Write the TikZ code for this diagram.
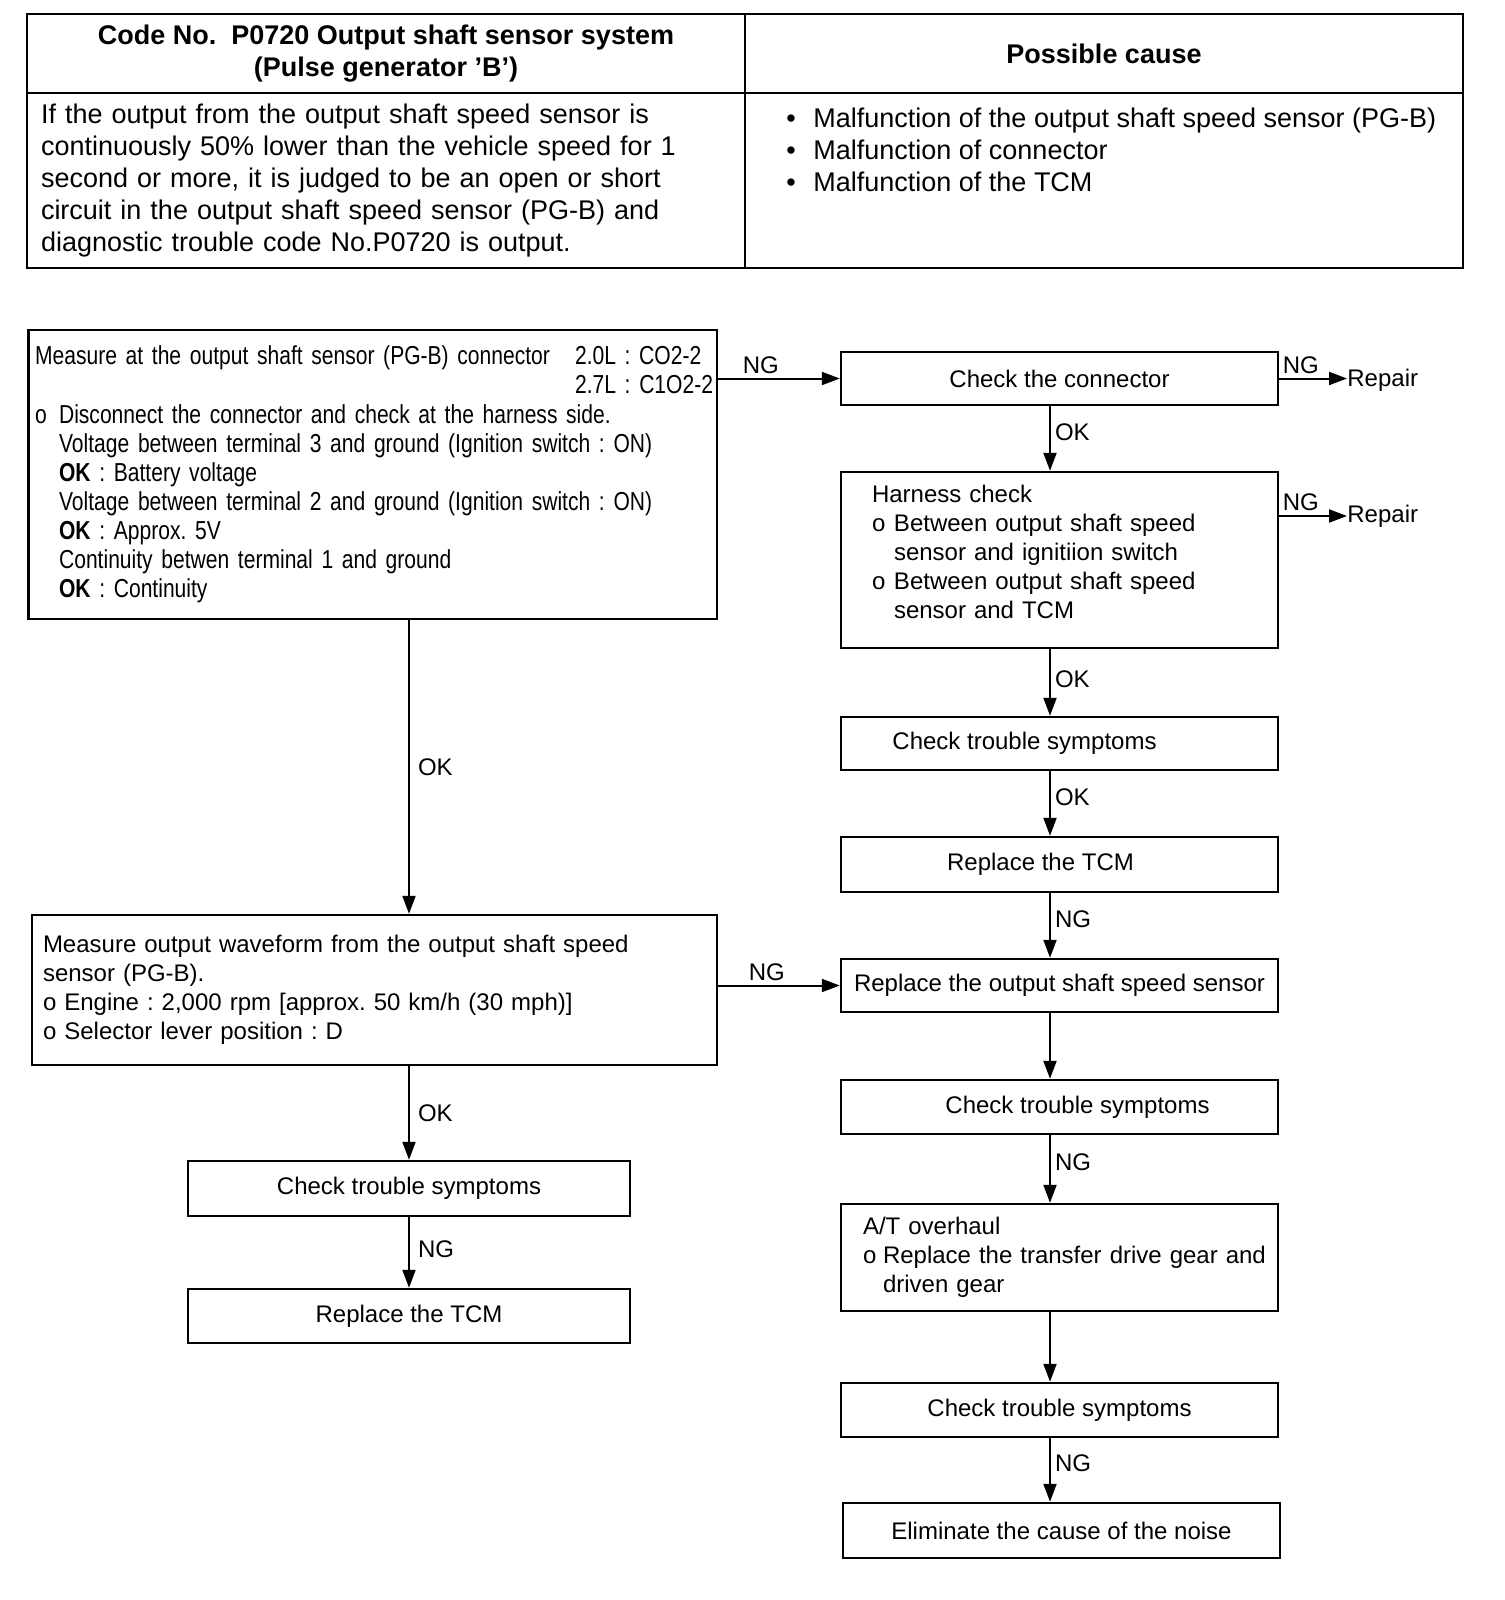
\documentclass[tikz,border=0pt]{standalone}
\usepackage{fontspec}
\setmainfont{Liberation Sans}
\newfontfamily\narrowsans[FakeStretch=0.81, WordSpace=0.8]{Liberation Sans}
\usetikzlibrary{arrows.meta}
\frenchspacing

\tikzset{
  cell/.style={draw, line width=1.2pt, inner sep=0pt},
  stepbox/.style={draw, line width=1.2pt, inner sep=0pt, minimum width=218.5pt,
    font=\fontsize{12}{14.5}\selectfont},
  arr/.style={line width=1pt, -{Triangle[length=9pt,width=6.5pt]}},
  lbl/.style={font=\fontsize{12}{14}\selectfont, inner sep=2pt},
}

\begin{document}
\begin{tikzpicture}[x=0.5pt, y=-0.5pt]
    \useasboundingbox (0,0) rectangle (1504,1600);

    % Table
    \node[cell, minimum width=358.75pt, minimum height=39.5pt, align=center,
      font=\bfseries\fontsize{13.5}{16}\selectfont] (codeHead) at (386,53.5)
      {Code No.\ \ P0720 Output shaft sensor system\\(Pulse generator 'B')};
    \node[cell, minimum width=359pt, minimum height=39.5pt,
      font=\bfseries\fontsize{13.5}{16}\selectfont] (causeHead) at (1104,53.5) {Possible cause};
    \node[cell, minimum width=358.75pt, minimum height=87.5pt, text width=345pt,
      inner xsep=6.75pt, align=left, font=\fontsize{13.5}{16}\selectfont] (codeBody) at (386,180.5)
      {If the output from the output shaft speed sensor is\\
       continuously 50\% lower than the vehicle speed for 1\\
       second or more, it is judged to be an open or short\\
       circuit in the output shaft speed sensor (PG-B) and\\
       diagnostic trouble code No.P0720 is output.};
    \node[cell, minimum width=359pt, minimum height=87.5pt] (causeBody) at (1104,180.5) {};
    \node[anchor=base west, align=left, inner sep=0pt,
      font=\fontsize{13.5}{16}\selectfont] (causeList) at (786,191.5)
      {\makebox[13.5pt][l]{•}Malfunction of the output shaft speed sensor (PG-B)\\
       \makebox[13.5pt][l]{•}Malfunction of connector\\
       \makebox[13.5pt][l]{•}Malfunction of the TCM};

    % Left column
    \node[stepbox, minimum width=344.2pt, minimum height=144.5pt, text width=337.7pt,
      inner xsep=3.25pt, align=left, font=\narrowsans\fontsize{13}{14.55}\selectfont]
      (measConn) at (372.8,474.5)
      {\makebox[270pt][l]{Measure at the output shaft sensor (PG-B) connector}\mbox{2.0L : CO2-2}\\
       \hspace*{270pt}\mbox{2.7L : C1O2-2}\\
       \makebox[12pt][l]{o}Disconnect the connector and check at the harness side.\\
       \hspace*{12pt}Voltage between terminal 3 and ground (Ignition switch : ON)\\
       \hspace*{12pt}\textbf{OK} : Battery voltage\\
       \hspace*{12pt}Voltage between terminal 2 and ground (Ignition switch : ON)\\
       \hspace*{12pt}\textbf{OK} : Approx. 5V\\
       \hspace*{12pt}Continuity betwen terminal 1 and ground\\
       \hspace*{12pt}\textbf{OK} : Continuity};
    \node[stepbox, minimum width=342.5pt, minimum height=75pt, text width=331.5pt,
      inner xsep=5.5pt, align=left] (measWave) at (374.5,990)
      {Measure output waveform from the output shaft speed\\
       sensor (PG-B).\\
       o Engine : 2,000 rpm [approx. 50 km/h (30 mph)]\\
       o Selector lever position : D};
    \node[stepbox, minimum width=221pt, minimum height=27.5pt] (checkL) at (409,1188.5) {Check trouble symptoms};
    \node[stepbox, minimum width=221pt, minimum height=27pt] (tcmL) at (409,1316) {Replace the TCM};

    % Right column
    \node[stepbox, minimum height=26.5pt] (checkConn) at (1059.5,378.5) {Check the connector};
    \node[stepbox, minimum height=88pt, text width=187.5pt, inner xsep=15.5pt, align=left]
      (harnCheck) at (1059.5,560)
      {Harness check\\
       \makebox[11pt][l]{o}Between output shaft speed\\
       \hspace*{11pt}sensor and ignitiion switch\\
       \makebox[11pt][l]{o}Between output shaft speed\\
       \hspace*{11pt}sensor and TCM\\[-6.5pt]\mbox{}};
    \node[stepbox, minimum height=26.5pt] (checkR1) at (1059.5,743.5) {\hspace*{-35pt}Check trouble symptoms};
    \node[stepbox, minimum height=27.5pt] (tcmR) at (1059.5,864.5) {\hspace*{-19pt}Replace the TCM};
    \node[stepbox, minimum height=26.5pt] (pgbSensor) at (1059.5,985.5) {Replace the output shaft speed sensor};
    \node[stepbox, minimum height=27pt] (checkR2) at (1059.5,1107) {\hspace*{18pt}Check trouble symptoms};
    \node[stepbox, minimum height=53.5pt, text width=196.5pt, inner xsep=11pt, align=left]
      (overhaul) at (1059.5,1257.5)
      {A/T overhaul\\
       \mbox{\makebox[10pt][l]{o}Replace the transfer drive gear and}\\
       \hspace*{10pt}driven gear};
    \node[stepbox, minimum height=27pt] (checkR3) at (1059.5,1410) {Check trouble symptoms};
    \node[stepbox, minimum height=27.5pt] (noise) at (1061.5,1530.5) {Eliminate the cause of the noise};

    \node[lbl, anchor=west, inner sep=0pt] (repairConn) at (1347,380) {Repair};
    \node[lbl, anchor=west, inner sep=0pt] (repairHarn) at (1347,516) {Repair};
    \coordinate (colR) at (1050,0);

    % Connections
    \draw[arr] (measConn.east |- checkConn.west) -- (checkConn.west) node[lbl, pos=0.35, above] {NG};
    \draw[arr] (checkConn.east) -- (checkConn.east -| repairConn.west) node[lbl, pos=0.32, above] {NG};
    \draw[arr] (harnCheck.east |- repairHarn.west) -- (repairHarn.west) node[lbl, pos=0.32, above] {NG};
    \draw[arr] (checkConn.south -| colR) -- (harnCheck.north -| colR) node[lbl, pos=0.4, right] {OK};
    \draw[arr] (harnCheck.south -| colR) -- (checkR1.north -| colR) node[lbl, pos=0.45, right] {OK};
    \draw[arr] (checkR1.south -| colR) -- (tcmR.north -| colR) node[lbl, pos=0.4, right] {OK};
    \draw[arr] (tcmR.south -| colR) -- (pgbSensor.north -| colR) node[lbl, pos=0.4, right] {NG};
    \draw[arr] (pgbSensor.south -| colR) -- (checkR2.north -| colR);
    \draw[arr] (checkR2.south -| colR) -- (overhaul.north -| colR) node[lbl, pos=0.4, right] {NG};
    \draw[arr] (overhaul.south -| colR) -- (checkR3.north -| colR);
    \draw[arr] (checkR3.south -| colR) -- (noise.north -| colR) node[lbl, pos=0.4, right] {NG};

    \draw[arr] (measConn.south -| checkL.north) -- (measWave.north -| checkL.north) node[lbl, pos=0.5, right=2pt] {OK};
    \draw[arr] (measWave.east |- pgbSensor.west) -- (pgbSensor.west) node[lbl, pos=0.4, above] {NG};
    \draw[arr] (measWave.south -| checkL.north) -- (checkL.north) node[lbl, pos=0.5, right=2pt] {OK};
    \draw[arr] (checkL.south) -- (tcmL.north) node[lbl, pos=0.45, right=2pt] {NG};
\end{tikzpicture}
\end{document}
